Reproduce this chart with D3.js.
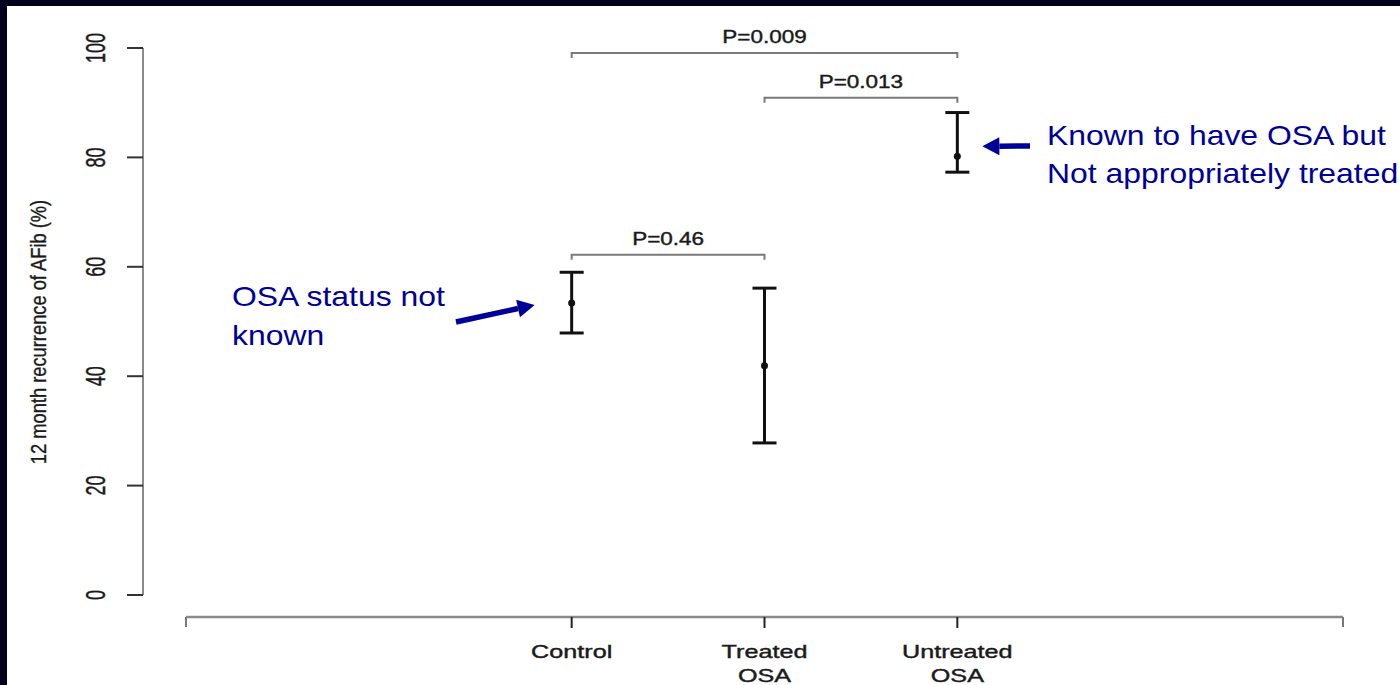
<!DOCTYPE html>
<html>
<head>
<meta charset="utf-8">
<script src="https://cdn.jsdelivr.net/npm/d3@7"></script>
<style>
  html, body { margin: 0; padding: 0; background: #ffffff; }
  svg { display: block; }
</style>
</head>
<body>
<svg id="chart" width="1400" height="685"></svg>
<script>
// Group labels (line breaks split with "\n")
const categories = ["Control", "Treated\nOSA", "Untreated\nOSA"];
const categoryPos = [1, 2, 3];
// 12-month AFib recurrence (%) with interval bounds
const means = [53.4, 41.9, 80.2];
const lower = [47.9, 27.8, 77.3];
const upper = [59.0, 56.1, 88.2];
// Pairwise comparisons: [from group, to group], p-value label, bracket level (%)
const compPairs = [[0, 2], [1, 2], [0, 1]];
const compLabels = ["P=0.009", "P=0.013", "P=0.46"];
const compLevels = [99.1, 90.9, 62.2];
const yTicks = [0, 20, 40, 60, 80, 100];
const yTitle = "12 month recurrence of AFib (%)";

const svg = d3.select("#chart");
const W = 1400, H = 685;

// Dark frame on the top and left edges
svg.append("rect").attr("x", 0).attr("y", 0).attr("width", W).attr("height", H).attr("fill", "#00001e");
svg.append("rect").attr("x", 7).attr("y", 6).attr("width", W - 7).attr("height", H - 6).attr("fill", "#ffffff");

const x = d3.scaleLinear().domain([-1, 5]).range([186, 1343]);
const y = d3.scaleLinear().domain([0, 100]).range([595, 48]);

const font = "'Liberation Sans', Arial, Helvetica, sans-serif";
const ink = "#1a1a1a";

// Y axis
const yAxisX = 143;
svg.append("line").attr("x1", yAxisX).attr("x2", yAxisX)
  .attr("y1", y(0)).attr("y2", y(100))
  .attr("stroke", "#8a8a8a").attr("stroke-width", 2);
const yt = svg.append("g");
yt.selectAll("line").data(yTicks).join("line")
  .attr("x1", yAxisX - 16).attr("x2", yAxisX)
  .attr("y1", d => y(d)).attr("y2", d => y(d))
  .attr("stroke", "#333").attr("stroke-width", 2);
yt.selectAll("text").data(yTicks).join("text")
  .attr("transform", d => `translate(105,${y(d)}) scale(1.5,1) rotate(-90)`)
  .attr("text-anchor", "middle")
  .attr("font-family", font).attr("font-size", 18)
  .attr("fill", ink).attr("stroke", ink).attr("stroke-width", 0.3)
  .text(d => d);
svg.append("text")
  .attr("transform", `translate(46,332) scale(1.2,1) rotate(-90)`)
  .attr("text-anchor", "middle")
  .attr("font-family", font).attr("font-size", 18.3)
  .attr("fill", ink).attr("stroke", ink).attr("stroke-width", 0.3)
  .text(yTitle);

// X axis
const xAxisY = 617;
svg.append("line").attr("x1", x(-1)).attr("x2", x(5))
  .attr("y1", xAxisY).attr("y2", xAxisY)
  .attr("stroke", "#8a8a8a").attr("stroke-width", 2.5);
svg.selectAll(".xend").data([-1, 5]).join("line")
  .attr("x1", d => x(d)).attr("x2", d => x(d))
  .attr("y1", xAxisY).attr("y2", xAxisY + 10)
  .attr("stroke", "#777").attr("stroke-width", 2);
svg.selectAll(".xtick").data(categoryPos).join("line")
  .attr("x1", d => x(d)).attr("x2", d => x(d))
  .attr("y1", xAxisY).attr("y2", xAxisY + 11)
  .attr("stroke", "#222").attr("stroke-width", 2);
categories.forEach((c, i) => {
  const cx = x(categoryPos[i]);
  c.split("\n").forEach((line, j) => {
    svg.append("text")
      .attr("transform", `translate(${cx},${658 + j * 24}) scale(1.4,1)`)
      .attr("text-anchor", "middle")
      .attr("font-family", font).attr("font-size", 18)
      .attr("fill", ink).attr("stroke", ink).attr("stroke-width", 0.4)
      .text(line);
  });
});

// Comparison brackets
compPairs.forEach((p, i) => {
  const x1 = x(categoryPos[p[0]]), x2 = x(categoryPos[p[1]]);
  const yy = y(compLevels[i]);
  svg.append("path")
    .attr("d", `M${x1},${yy + 5}V${yy}H${x2}V${yy + 5}`)
    .attr("fill", "none").attr("stroke", "#7a7a7a").attr("stroke-width", 2);
  svg.append("text")
    .attr("transform", `translate(${(x1 + x2) / 2},${yy - 10}) scale(1.25,1)`)
    .attr("text-anchor", "middle")
    .attr("font-family", font).attr("font-size", 18)
    .attr("fill", ink).attr("stroke", ink).attr("stroke-width", 0.4)
    .text(compLabels[i]);
});

// Interval bars with mean points
const capHalf = 12;
const bars = svg.append("g");
categoryPos.forEach((pos, i) => {
  const cx = x(pos);
  bars.append("line").attr("x1", cx).attr("x2", cx)
    .attr("y1", y(lower[i])).attr("y2", y(upper[i]))
    .attr("stroke", "#111").attr("stroke-width", 3);
  [lower[i], upper[i]].forEach(v => {
    bars.append("line").attr("x1", cx - capHalf).attr("x2", cx + capHalf)
      .attr("y1", y(v)).attr("y2", y(v))
      .attr("stroke", "#111").attr("stroke-width", 3);
  });
  bars.append("circle").attr("cx", cx).attr("cy", y(means[i])).attr("r", 3.5).attr("fill", "#111");
});

// Annotations
const blue = "#000099";
const note = svg.append("g").attr("font-family", font).attr("font-size", 28.5).attr("fill", blue);
function noteLine(tx, ty, str) {
  note.append("text").attr("transform", `translate(${tx},${ty}) scale(1.12,1)`).text(str);
}
noteLine(232, 306, "OSA status not");
noteLine(232, 345, "known");
noteLine(1047, 145, "Known to have OSA but");
noteLine(1047, 183, "Not appropriately treated");

function arrow(x0, y0, x1, y1) {
  const ang = Math.atan2(y1 - y0, x1 - x0);
  const headLen = 17, headW = 9;
  const bx = x1 - headLen * Math.cos(ang), by = y1 - headLen * Math.sin(ang);
  svg.append("line").attr("x1", x0).attr("y1", y0).attr("x2", bx).attr("y2", by)
    .attr("stroke", blue).attr("stroke-width", 5.5);
  const nx = -Math.sin(ang), ny = Math.cos(ang);
  svg.append("path")
    .attr("d", `M${x1},${y1}L${bx + nx * headW},${by + ny * headW}L${bx - nx * headW},${by - ny * headW}Z`)
    .attr("fill", blue);
}
// Arrows point at the Control and Untreated OSA means
arrow(456, 322, x(1) - 37, y(means[0]) + 2);
arrow(1030, 146, x(3) + 25, y(means[2]) - 10);
</script>
</body>
</html>
